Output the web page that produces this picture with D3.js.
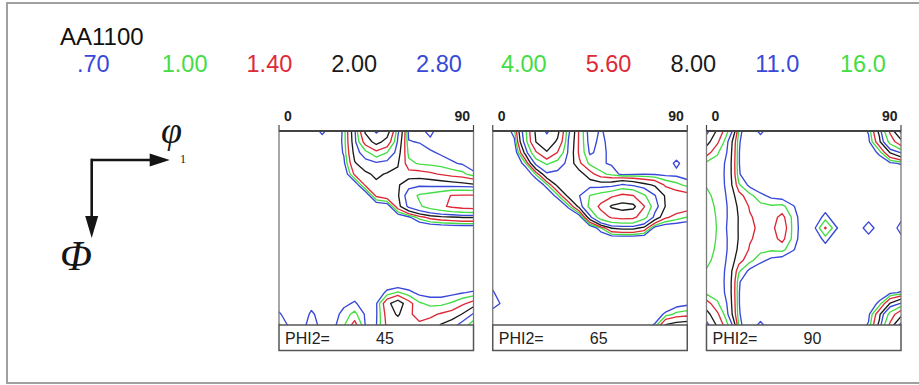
<!DOCTYPE html>
<html>
<head>
<meta charset="utf-8">
<script src="https://cdn.jsdelivr.net/npm/d3@7"></script>
<style>
  html, body { margin: 0; padding: 0; background: #fff; }
  svg { display: block; font-family: "Liberation Sans", Arial, Helvetica, sans-serif; }
</style>
</head>
<body>
<svg id="chart" width="919" height="385"></svg>
<script>
// ODF sections of AA1100, contour levels and three phi2 sections

const title = 'AA1100'
const levels = [0.7, 1.0, 1.4, 2.0, 2.8, 4.0, 5.6, 8.0, 11.0, 16.0]
const levelLabels = ['.70', '1.00', '1.40', '2.00', '2.80', '4.00', '5.60', '8.00', '11.0', '16.0']
const levelColors = ['#3848d8', '#44dd44', '#dd2a36', '#1a1a1a'] // cycles over levels
const phi2Values = [45, 65, 90]
const angleTicks = [0, 90]
const gridStep = 5 // degrees between grid nodes

// rows: Phi = 0..90 (step 5), columns: phi1 = 0..90 (step 5)
const odf45 = [
  [0.3, 0.3, 0.3, 0.2, 0.9, 0.2, 0.8, 2.5, 8.5, 11.5, 9.5, 3.0, 0.6, 0.5, 0.9, 0.3, 0.3, 0.3, 0.3],
  [0.3, 0.3, 0.3, 0.3, 0.3, 0.3, 0.8, 2.4, 6.5, 9.0, 7.0, 2.6, 0.72, 0.68, 0.55, 0.5, 0.4, 0.35, 0.3],
  [0.3, 0.3, 0.3, 0.3, 0.3, 0.3, 0.75, 2.2, 3.5, 5.0, 4.0, 2.3, 0.9, 0.85, 0.75, 0.65, 0.55, 0.5, 0.45],
  [0.3, 0.3, 0.3, 0.3, 0.3, 0.3, 0.6, 1.95, 2.3, 2.6, 2.4, 2.05, 1.1, 0.95, 0.9, 0.85, 0.75, 0.65, 0.45],
  [0.3, 0.3, 0.3, 0.3, 0.3, 0.3, 0.3, 1.5, 1.9, 2.1, 1.95, 1.9, 1.6, 1.6, 1.5, 1.35, 1.2, 1.1, 0.8],
  [0.3, 0.3, 0.3, 0.3, 0.3, 0.3, 0.2, 0.3, 1.5, 1.9, 1.9, 1.9, 2.5, 2.6, 2.5, 2.4, 2.3, 2.2, 2.1],
  [0.2, 0.2, 0.2, 0.2, 0.2, 0.2, 0.2, 0.2, 0.2, 1.5, 1.8, 1.9, 3.3, 4.2, 4.5, 5.0, 5.7, 5.8, 5.8],
  [0.2, 0.2, 0.2, 0.2, 0.2, 0.2, 0.2, 0.2, 0.2, 0.2, 0.3, 1.7, 3.0, 3.8, 4.6, 5.3, 5.9, 6.3, 6.5],
  [0.2, 0.2, 0.2, 0.2, 0.2, 0.2, 0.2, 0.2, 0.2, 0.2, 0.2, 0.3, 0.6, 1.2, 1.6, 1.8, 1.9, 2.05, 2.05],
  [0.2, 0.2, 0.2, 0.2, 0.2, 0.2, 0.2, 0.2, 0.2, 0.2, 0.2, 0.2, 0.1, 0.1, 0.2, 0.25, 0.3, 0.3, 0.3],
  [0.2, 0.2, 0.2, 0.2, 0.2, 0.2, 0.2, 0.2, 0.2, 0.2, 0.2, 0.2, 0.2, 0.2, 0.2, 0.2, 0.2, 0.2, 0.2],
  [0.2, 0.2, 0.2, 0.2, 0.2, 0.2, 0.2, 0.2, 0.2, 0.2, 0.2, 0.2, 0.2, 0.2, 0.2, 0.2, 0.2, 0.2, 0.2],
  [0.2, 0.2, 0.2, 0.2, 0.2, 0.2, 0.2, 0.2, 0.2, 0.2, 0.2, 0.2, 0.2, 0.2, 0.2, 0.2, 0.2, 0.2, 0.2],
  [0.3, 0.3, 0.3, 0.3, 0.3, 0.3, 0.3, 0.3, 0.3, 0.3, 0.3, 0.3, 0.3, 0.3, 0.3, 0.3, 0.3, 0.3, 0.3],
  [0.3, 0.3, 0.3, 0.3, 0.3, 0.3, 0.3, 0.3, 0.3, 0.3, 0.4, 0.3, 0.4, 0.3, 0.3, 0.3, 0.3, 0.3, 0.4],
  [0.3, 0.2, 0.2, 0.3, 0.3, 0.3, 0.4, 0.5, 0.3, 0.4, 0.8, 1.05, 0.8, 0.6, 0.55, 0.55, 0.6, 0.68, 0.75],
  [0.5, 0.3, 0.3, 0.55, 0.3, 0.4, 0.6, 0.75, 0.5, 0.65, 1.8, 2.4, 1.6, 1.05, 0.9, 0.9, 1.05, 1.3, 1.6],
  [0.75, 0.5, 0.4, 0.78, 0.5, 0.5, 0.85, 1.1, 0.65, 0.65, 1.6, 2.1, 1.45, 1.3, 1.3, 1.45, 1.6, 2.05, 2.9],
  [1.05, 0.6, 0.5, 0.9, 0.55, 0.6, 0.95, 1.6, 0.68, 0.68, 1.5, 1.6, 1.45, 1.45, 1.6, 2.05, 2.4, 3.2, 4.8]
]

const odf65 = [
  [0.3, 0.3, 0.9, 3.5, 8.5, 11.5, 8.8, 3.0, 1.3, 0.5, 0.75, 0.5, 0.4, 0.4, 0.4, 0.4, 0.4, 0.35, 0.3],
  [0.3, 0.3, 0.6, 3.2, 8.05, 9.6, 7.6, 2.75, 1.3, 0.55, 0.8, 0.55, 0.4, 0.4, 0.4, 0.4, 0.4, 0.4, 0.35],
  [0.3, 0.3, 0.3, 2.2, 5.3, 7.8, 5.5, 2.6, 1.3, 0.65, 0.8, 0.6, 0.45, 0.45, 0.45, 0.45, 0.45, 0.5, 0.4],
  [0.3, 0.3, 0.2, 0.9, 3.05, 4.2, 3.4, 2.5, 1.5, 0.9, 0.75, 0.65, 0.5, 0.5, 0.5, 0.5, 0.5, 0.78, 0.5],
  [0.3, 0.3, 0.2, 0.2, 1.05, 2.6, 2.5, 2.4, 2.3, 1.6, 1.1, 0.9, 0.6, 0.65, 0.68, 0.66, 0.6, 0.6, 0.5],
  [0.3, 0.3, 0.2, 0.2, 0.2, 0.9, 2.2, 2.4, 2.5, 2.4, 2.3, 2.4, 2.9, 2.6, 2.2, 1.9, 1.3, 1.1, 0.9],
  [0.3, 0.3, 0.2, 0.2, 0.2, 0.2, 0.9, 2.2, 2.75, 4.05, 4.6, 5.2, 6.0, 5.65, 4.2, 2.85, 1.9, 1.7, 1.6],
  [0.3, 0.3, 0.2, 0.2, 0.2, 0.2, 0.1, 0.8, 2.2, 4.4, 6.0, 8.3, 9.0, 8.6, 5.7, 3.2, 1.95, 1.8, 1.7],
  [0.3, 0.3, 0.2, 0.2, 0.2, 0.2, 0.2, 0.1, 0.3, 2.5, 4.8, 5.8, 6.2, 6.05, 4.5, 2.5, 1.5, 1.2, 0.98],
  [0.3, 0.3, 0.2, 0.2, 0.2, 0.2, 0.2, 0.2, 0.2, 0.2, 0.98, 2.05, 2.2, 2.2, 1.8, 0.5, 0.3, 0.3, 0.3],
  [0.2, 0.2, 0.2, 0.2, 0.2, 0.2, 0.2, 0.2, 0.2, 0.2, 0.2, 0.2, 0.2, 0.2, 0.2, 0.2, 0.2, 0.2, 0.2],
  [0.3, 0.3, 0.3, 0.3, 0.3, 0.3, 0.3, 0.3, 0.3, 0.3, 0.3, 0.3, 0.3, 0.3, 0.3, 0.3, 0.3, 0.3, 0.3],
  [0.3, 0.3, 0.3, 0.3, 0.3, 0.3, 0.3, 0.3, 0.3, 0.3, 0.3, 0.3, 0.3, 0.3, 0.3, 0.3, 0.3, 0.3, 0.3],
  [0.3, 0.3, 0.3, 0.3, 0.3, 0.3, 0.3, 0.3, 0.3, 0.3, 0.3, 0.3, 0.3, 0.3, 0.3, 0.3, 0.3, 0.3, 0.3],
  [0.55, 0.3, 0.3, 0.3, 0.3, 0.3, 0.3, 0.3, 0.3, 0.3, 0.3, 0.3, 0.3, 0.3, 0.3, 0.3, 0.3, 0.3, 0.3],
  [0.75, 0.4, 0.3, 0.3, 0.3, 0.3, 0.3, 0.3, 0.3, 0.3, 0.3, 0.3, 0.3, 0.3, 0.3, 0.3, 0.3, 0.3, 0.3],
  [0.8, 0.65, 0.3, 0.3, 0.3, 0.3, 0.3, 0.3, 0.3, 0.3, 0.3, 0.3, 0.3, 0.3, 0.3, 0.3, 0.3, 0.5, 0.6],
  [0.6, 0.4, 0.3, 0.3, 0.3, 0.3, 0.3, 0.3, 0.3, 0.3, 0.3, 0.3, 0.3, 0.3, 0.3, 0.4, 0.8, 1.1, 1.2],
  [0.4, 0.3, 0.3, 0.3, 0.3, 0.3, 0.3, 0.3, 0.3, 0.3, 0.3, 0.3, 0.3, 0.3, 0.5, 0.75, 2.05, 2.3, 2.4]
]

const odf90 = [
  [12, 7.5, 4.0, 0.9, 0.2, 0.9, 0.2, 0.3, 0.3, 0.3, 0.3, 0.3, 0.3, 0.3, 0.4, 0.75, 2.2, 6.0, 12],
  [9.0, 6.0, 2.75, 0.75, 0.3, 0.3, 0.3, 0.3, 0.3, 0.3, 0.3, 0.3, 0.3, 0.3, 0.3, 0.6, 1.8, 4.5, 7.0],
  [6.5, 4.2, 2.6, 0.72, 0.3, 0.3, 0.3, 0.3, 0.3, 0.3, 0.3, 0.3, 0.3, 0.3, 0.3, 0.4, 0.8, 2.05, 2.85],
  [3.6, 3.4, 2.5, 0.72, 0.3, 0.3, 0.3, 0.3, 0.3, 0.3, 0.3, 0.3, 0.3, 0.3, 0.3, 0.3, 0.4, 0.6, 0.75],
  [3.5, 3.3, 2.5, 0.75, 0.3, 0.3, 0.3, 0.3, 0.3, 0.3, 0.3, 0.3, 0.3, 0.3, 0.3, 0.3, 0.3, 0.3, 0.3],
  [3.9, 3.4, 2.5, 1.05, 0.6, 0.4, 0.3, 0.3, 0.3, 0.3, 0.3, 0.3, 0.3, 0.3, 0.3, 0.3, 0.3, 0.3, 0.3],
  [4.3, 3.6, 2.6, 1.6, 1.1, 0.8, 0.6, 0.5, 0.3, 0.3, 0.3, 0.3, 0.3, 0.3, 0.3, 0.3, 0.3, 0.3, 0.3],
  [4.5, 3.8, 2.7, 1.85, 1.35, 1.1, 1.05, 1.1, 0.75, 0.4, 0.3, 0.5, 0.3, 0.3, 0.3, 0.3, 0.3, 0.3, 0.3],
  [4.6, 3.9, 2.7, 1.95, 1.45, 1.25, 1.2, 1.55, 0.9, 0.45, 0.4, 0.85, 0.4, 0.3, 0.4, 0.55, 0.4, 0.4, 0.6],
  [4.6, 3.95, 2.6, 1.95, 1.5, 1.3, 1.25, 1.75, 0.9, 0.5, 0.65, 1.45, 0.75, 0.35, 0.5, 0.9, 0.5, 0.45, 0.85],
  [4.6, 3.9, 2.7, 1.95, 1.45, 1.25, 1.2, 1.55, 0.9, 0.45, 0.4, 0.85, 0.4, 0.3, 0.4, 0.55, 0.4, 0.4, 0.6],
  [4.5, 3.8, 2.7, 1.85, 1.35, 1.1, 1.05, 1.1, 0.75, 0.4, 0.3, 0.5, 0.3, 0.3, 0.3, 0.3, 0.3, 0.3, 0.3],
  [4.3, 3.6, 2.6, 1.6, 1.1, 0.8, 0.6, 0.5, 0.3, 0.3, 0.3, 0.3, 0.3, 0.3, 0.3, 0.3, 0.3, 0.3, 0.3],
  [3.9, 3.4, 2.5, 1.05, 0.6, 0.4, 0.3, 0.3, 0.3, 0.3, 0.3, 0.3, 0.3, 0.3, 0.3, 0.3, 0.3, 0.3, 0.3],
  [3.5, 3.3, 2.5, 0.75, 0.3, 0.3, 0.3, 0.3, 0.3, 0.3, 0.3, 0.3, 0.3, 0.3, 0.3, 0.3, 0.3, 0.3, 0.3],
  [3.6, 3.4, 2.5, 0.72, 0.3, 0.3, 0.3, 0.3, 0.3, 0.3, 0.3, 0.3, 0.3, 0.3, 0.3, 0.3, 0.4, 0.6, 0.75],
  [6.5, 4.2, 2.6, 0.72, 0.3, 0.3, 0.3, 0.3, 0.3, 0.3, 0.3, 0.3, 0.3, 0.3, 0.3, 0.4, 0.8, 2.05, 2.85],
  [9.0, 6.0, 2.75, 0.75, 0.3, 0.3, 0.3, 0.3, 0.3, 0.3, 0.3, 0.3, 0.3, 0.3, 0.3, 0.6, 1.8, 4.5, 7.0],
  [12, 7.5, 4.0, 0.9, 0.2, 0.9, 0.2, 0.3, 0.3, 0.3, 0.3, 0.3, 0.3, 0.3, 0.4, 0.75, 2.2, 6.0, 12]
]

const sections = [odf45, odf65, odf90]

const svg = d3.select('#chart')

// outer frame
svg.append('rect')
  .attr('x', 7).attr('y', 3)
  .attr('width', 930).attr('height', 380)
  .attr('fill', 'none')
  .attr('stroke', '#a0a0a0')
  .attr('stroke-width', 2)

// title + level legend
svg.append('text')
  .attr('x', 60).attr('y', 45)
  .attr('font-size', 24)
  .attr('fill', '#111')
  .text(title)

const legendX = d3.scalePoint().domain(levelLabels).range([77, 840])
svg.append('g').selectAll('text')
  .data(levelLabels)
  .join('text')
  .attr('x', d => legendX(d))
  .attr('y', 71.5)
  .attr('font-size', 23.5)
  .attr('fill', (d, i) => levelColors[i % levelColors.length])
  .text(d => d)

// axis orientation sketch
const ox = 91.7, oy = 160
const ink = '#151515'
const serif = '"Liberation Serif", "DejaVu Serif", serif'
const key = svg.append('g')
key.append('line').attr('x1', ox).attr('y1', oy).attr('x2', ox + 62).attr('y2', oy)
  .attr('stroke', ink).attr('stroke-width', 2.6)
key.append('line').attr('x1', ox).attr('y1', oy - 1.3).attr('x2', ox).attr('y2', oy + 60)
  .attr('stroke', ink).attr('stroke-width', 2.6)
key.append('path')
  .attr('d', `M${ox + 78},${oy} L${ox + 58},${oy - 6.5} L${ox + 58},${oy + 6.5} Z`)
  .attr('fill', ink)
key.append('path')
  .attr('d', `M${ox},${oy + 78} L${ox - 6.5},${oy + 56} L${ox + 6.5},${oy + 56} Z`)
  .attr('fill', ink)
key.append('text')
  .attr('x', 161).attr('y', 143)
  .attr('font-family', serif)
  .attr('font-style', 'italic')
  .attr('font-size', 38)
  .attr('fill', ink)
  .text('φ')
key.append('text')
  .attr('x', 180).attr('y', 163)
  .attr('font-family', serif)
  .attr('font-size', 12)
  .attr('fill', ink)
  .text('1')
key.append('text')
  .attr('x', 60).attr('y', 270)
  .attr('font-family', serif)
  .attr('font-style', 'italic')
  .attr('font-size', 42)
  .attr('fill', ink)
  .text('Φ')

// panels
const plotTop = 131
const plotBottom = 325
const boxBottom = 350.5
const panelX = d3.scaleBand().domain(phi2Values).range([279, 901]).paddingInner(0.09)
const bw = panelX.bandwidth()
const nx = odf45[0].length
const ny = odf45.length

phi2Values.forEach((phi2, k) => {
  const x0 = panelX(phi2)
  const xs = d3.scaleLinear().domain([0, 90]).range([x0, x0 + bw])
  const ys = d3.scaleLinear().domain([0, 90]).range([plotTop, plotBottom])
  const g = svg.append('g')

  const clipId = `clip-${phi2}`
  svg.append('clipPath').attr('id', clipId)
    .append('rect')
    .attr('x', x0).attr('y', plotTop)
    .attr('width', bw).attr('height', plotBottom - plotTop)

  const grid = sections[k]
  const contours = d3.contours()
    .size([nx, ny])
    .thresholds(levels)(grid.flat())

  // grid node i sits at contour coordinate i + 0.5
  const proj = d3.geoTransform({
    point: function (x, y) {
      this.stream.point(xs((x - 0.5) * gridStep), ys((y - 0.5) * gridStep))
    }
  })
  const path = d3.geoPath(proj)

  g.append('g')
    .attr('clip-path', `url(#${clipId})`)
    .selectAll('path')
    .data(contours)
    .join('path')
    .attr('d', path)
    .attr('fill', 'none')
    .attr('stroke', (d, i) => levelColors[i % levelColors.length])
    .attr('stroke-width', 1.35)
    .attr('stroke-linejoin', 'round')

  // side borders
  g.append('line').attr('x1', x0).attr('x2', x0).attr('y1', plotTop).attr('y2', plotBottom)
    .attr('stroke', '#777').attr('stroke-width', 1.3)
  g.append('line').attr('x1', x0 + bw).attr('x2', x0 + bw).attr('y1', plotTop).attr('y2', plotBottom)
    .attr('stroke', '#777').attr('stroke-width', 1.3)

  // top phi1 axis
  g.append('line').attr('x1', x0).attr('x2', x0 + bw).attr('y1', plotTop).attr('y2', plotTop)
    .attr('stroke', '#444').attr('stroke-width', 2)
  g.selectAll('.tick')
    .data(angleTicks)
    .join('line')
    .attr('x1', d => xs(d)).attr('x2', d => xs(d))
    .attr('y1', plotTop).attr('y2', plotTop - 6)
    .attr('stroke', '#444').attr('stroke-width', 1.2)
  g.selectAll('.tlabel')
    .data(angleTicks)
    .join('text')
    .attr('x', d => xs(d) + (d === 0 ? 5 : -3.5))
    .attr('y', 120.5)
    .attr('text-anchor', d => d === 0 ? 'start' : 'end')
    .attr('font-size', 14)
    .attr('font-weight', 'bold')
    .attr('fill', '#222')
    .text(d => d)

  // section label box
  g.append('rect')
    .attr('x', x0).attr('y', plotBottom)
    .attr('width', bw).attr('height', boxBottom - plotBottom)
    .attr('fill', 'none')
    .attr('stroke', '#555').attr('stroke-width', 1.5)
  g.append('text')
    .attr('x', x0 + 6).attr('y', 344)
    .attr('font-size', 16)
    .attr('fill', '#222')
    .text('PHI2=')
  g.append('text')
    .attr('x', x0 + 97).attr('y', 344)
    .attr('font-size', 16)
    .attr('fill', '#222')
    .text(phi2)
})
</script>
</body>
</html>
